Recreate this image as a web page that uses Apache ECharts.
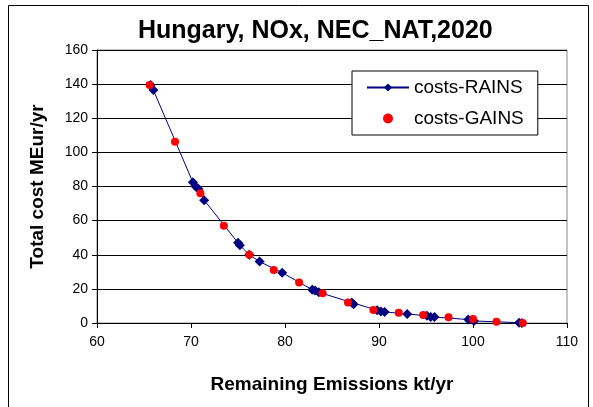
<!DOCTYPE html>
<html>
<head>
<meta charset="utf-8">
<script src="https://cdn.jsdelivr.net/npm/echarts@6/dist/echarts.min.js"></script>
<style>
html,body{margin:0;padding:0;background:#fff;}
#c{width:593px;height:407px;}
</style>
</head>
<body>
<div id="c"></div>
<script>
// Data
const ticksX = [60, 70, 80, 90, 100, 110];
const ticksY = [0, 20, 40, 60, 80, 100, 120, 140, 160];

const rainsX = [65.7, 66.0, 70.2, 70.5, 70.8, 71.4, 75.0, 75.2, 76.2, 77.3, 79.7, 82.9, 83.2, 83.6, 87.1, 87.3, 89.8, 90.2, 90.6, 93.0, 95.1, 95.5, 95.9, 99.5, 100.1, 104.9, 105.2];
const rainsY = [139.5, 136.5, 82.5, 80.0, 78.5, 72.0, 47.0, 45.5, 40.0, 36.0, 29.5, 19.5, 19.0, 18.0, 12.0, 11.0, 7.5, 6.8, 6.5, 5.3, 4.2, 3.5, 3.5, 2.0, 1.2, 0.2, 0.0];

const gainsX = [65.6, 68.3, 71.0, 73.5, 76.2, 78.8, 81.5, 84.0, 86.7, 89.4, 92.1, 94.7, 97.4, 100.0, 102.5, 105.3];
const gainsY = [139.5, 106.3, 76.0, 57.0, 40.0, 31.1, 23.8, 17.4, 12.0, 7.6, 6.0, 4.7, 3.3, 2.3, 0.8, 0.0];

const rains = rainsX.map((x, i) => [x, rainsY[i]]);
const gains = gainsX.map((x, i) => [x, gainsY[i]]);

const FONT = '"Liberation Sans", Arial, sans-serif';
const chart = echarts.init(document.getElementById('c'), null, {renderer: 'canvas'});
chart.setOption({
  animation: false,
  backgroundColor: '#fff',
  title: {
    text: 'Hungary, NOx, NEC_NAT,2020',
    left: 133, top: 14,
    textStyle: {fontFamily: FONT, fontSize: 25, fontWeight: 'bold', color: '#000'}
  },
  graphic: [{
    type: 'rect', shape: {x: 8.5, y: 5.5, width: 580, height: 420},
    style: {fill: 'none', stroke: '#000', lineWidth: 1}, silent: true, z: 100
  }],
  legend: {
    orient: 'vertical',
    left: 352, top: 71,
    padding: [7, 14, 7, 14],
    itemGap: 12,
    itemWidth: 42, itemHeight: 10,
    backgroundColor: '#fff',
    borderColor: '#000', borderWidth: 1, borderRadius: 0,
    textStyle: {fontFamily: FONT, fontSize: 19, color: '#000'},
    data: [
      {name: 'costs-RAINS'},
      {name: 'costs-GAINS', itemStyle: {opacity: 1}}
    ]
  },
  grid: {left: 97, right: 26, top: 50, bottom: 84, show: true, borderColor: '#888', borderWidth: 1},
  xAxis: {
    type: 'value', min: 60, max: 110, interval: 10,
    name: 'Remaining Emissions kt/yr', nameLocation: 'middle', nameGap: 52,
    nameTextStyle: {fontFamily: FONT, fontSize: 19, fontWeight: 'bold', color: '#000'},
    axisLine: {lineStyle: {color: '#000'}},
    axisTick: {show: true, inside: false, length: 5, lineStyle: {color: '#000'}},
    axisLabel: {fontFamily: FONT, fontSize: 14, color: '#000', margin: 12},
    splitLine: {show: false}
  },
  yAxis: {
    type: 'value', min: 0, max: 160, interval: 20,
    name: 'Total cost MEur/yr', nameLocation: 'middle', nameGap: 50,
    nameTextStyle: {fontFamily: FONT, fontSize: 19, fontWeight: 'bold', color: '#000'},
    axisLine: {show: true, lineStyle: {color: '#000'}},
    axisTick: {show: true, inside: false, length: 5, lineStyle: {color: '#000'}},
    axisLabel: {fontFamily: FONT, fontSize: 14, color: '#000', margin: 9},
    splitLine: {show: true, lineStyle: {color: '#000', width: 1}}
  },
  series: [
    {
      name: 'costs-RAINS', type: 'line', data: rains,
      symbol: 'diamond', symbolSize: 10, showAllSymbol: true,
      lineStyle: {color: '#000080', width: 1},
      itemStyle: {color: '#000080'}, z: 2
    },
    {
      name: 'costs-GAINS', type: 'scatter', data: gains,
      symbol: 'circle', symbolSize: 8,
      itemStyle: {color: '#ff0000', opacity: 1}, z: 3
    }
  ]
});
</script>
</body>
</html>
